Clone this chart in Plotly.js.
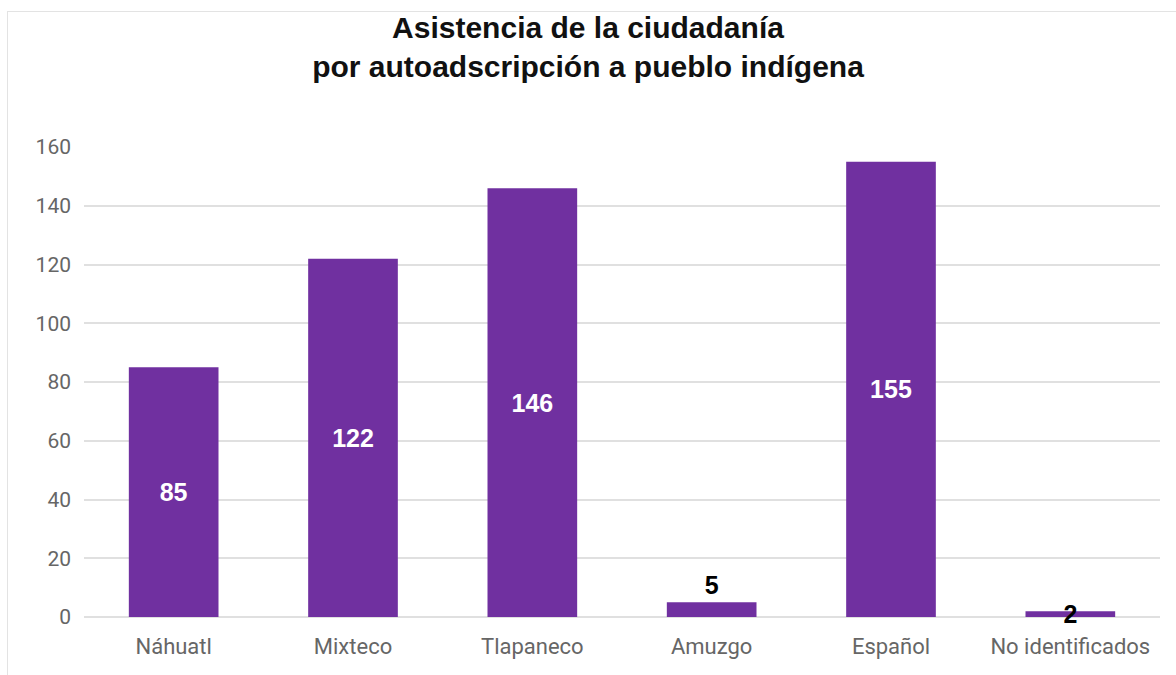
<!DOCTYPE html>
<html>
<head>
<meta charset="utf-8">
<script src="https://cdn.plot.ly/plotly-3.0.1.min.js"></script>
<style>
html,body{margin:0;padding:0;background:#fff;}
#chart{width:1176px;height:675px;position:absolute;left:0;top:0;}
#frame{position:absolute;left:7px;top:11px;width:1169px;height:664px;border-left:1px solid #e3e3e3;border-top:1px solid #e3e3e3;pointer-events:none;}
</style>
</head>
<body>
<div id="chart"></div>
<div id="frame"></div>
<script>
const categories = ["Náhuatl", "Mixteco", "Tlapaneco", "Amuzgo", "Español", "No identificados"];
const values = [85, 122, 146, 5, 155, 2];
const labelPositions = ["inside", "inside", "inside", "outside", "inside", "inside"];
const labelColors = ["#ffffff", "#ffffff", "#ffffff", "#000000", "#ffffff", "#000000"];
const yTicks = [0, 20, 40, 60, 80, 100, 120, 140, 160];

const trace = {
  type: "bar",
  x: categories,
  y: values,
  text: values.map(String),
  textposition: labelPositions,
  insidetextanchor: "middle",
  constraintext: "none",
  textangle: 0,
  cliponaxis: false,
  textfont: {family: "Liberation Sans, Arial, sans-serif", size: 25, color: labelColors, weight: "bold"},
  marker: {color: "#7030A0"},
  hoverinfo: "none"
};

const layout = {
  width: 1176,
  height: 675,
  margin: {l: 84, r: 16, t: 147, b: 58},
  paper_bgcolor: "#ffffff",
  plot_bgcolor: "#ffffff",
  bargap: 0.5,
  showlegend: false,
  title: {
    text: "<b>Asistencia de la ciudadanía<br>por autoadscripción a pueblo indígena</b>",
    font: {family: "Liberation Sans, Arial, sans-serif", size: 30, color: "#111111"},
    x: 0.5,
    xanchor: "center",
    y: 0.995,
    yanchor: "top",
    pad: {t: 35}
  },
  xaxis: {
    type: "category",
    showgrid: false,
    zeroline: false,
    showline: false,
    ticks: "",
    tickfont: {family: "Roboto, Arial, sans-serif", size: 22, color: "#666666"},
    ticklabelstandoff: 14
  },
  yaxis: {
    range: [0, 160],
    tickvals: yTicks,
    ticktext: yTicks.map(String),
    showgrid: true,
    gridcolor: "#e0e0e0",
    gridwidth: 2,
    zeroline: true,
    zerolinecolor: "#e0e0e0",
    zerolinewidth: 2,
    showline: false,
    ticks: "",
    tickfont: {family: "Roboto, Arial, sans-serif", size: 21, color: "#666666"},
    ticklabelstandoff: 12
  }
};

Plotly.newPlot("chart", [trace], layout, {displayModeBar: false, staticPlot: true});
</script>
</body>
</html>
